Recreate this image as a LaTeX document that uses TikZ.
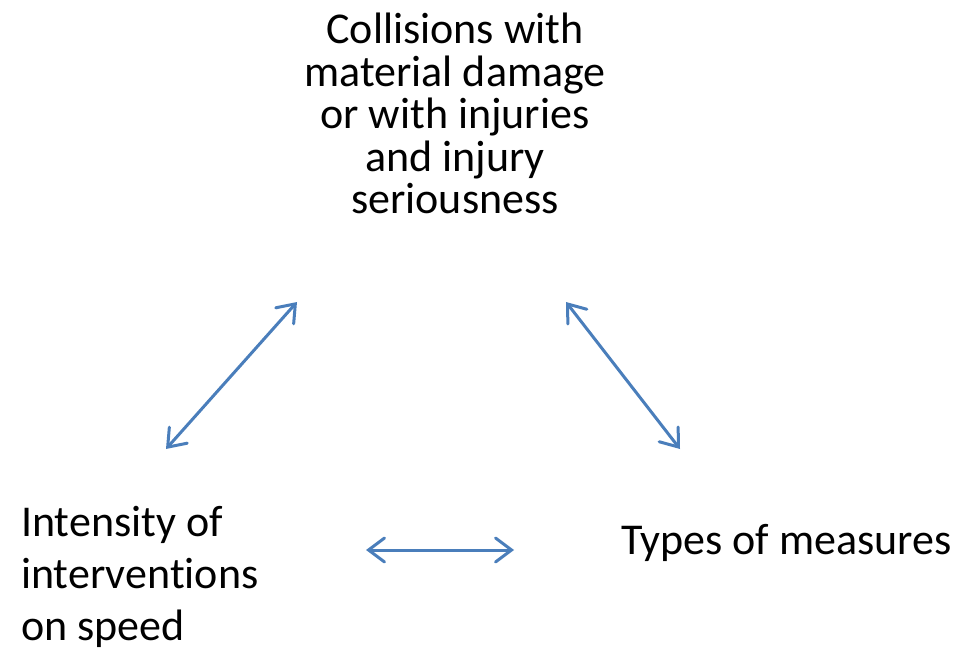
\documentclass[tikz,border=0pt]{standalone}
\usepackage{fontspec}
\setmainfont[Ligatures=NoCommon]{Carlito}
\usetikzlibrary{arrows.meta}
\definecolor{arrowblue}{HTML}{4A7EBB}
\tikzset{
  lbl/.style={inner sep=0pt, font=\fontsize{44}{42.5}\selectfont},
  barb/.tip={Straight Barb[length=16pt,width=24pt,line cap=round]},
  biarrow/.style={draw=arrowblue, line width=3pt, line cap=round, barb-barb}
}
\begin{document}
\begin{tikzpicture}[x=1pt,y=-1pt]
\useasboundingbox (0,0) rectangle (956,652);
\node[lbl, align=center, anchor=north] (top) at (455,13)
  {Collisions with\\material damage\\or with injuries\\and injury\\seriousness};
\node[lbl, align=left, anchor=north west, font=\fontsize{44}{52}\selectfont] (left) at (21,506)
  {Intensity of\\interventions\\on speed};
\node[lbl, anchor=west] (right) at (621,543) {Types of measures};
\coordinate (l1) at (166,449);
\coordinate (l2) at (297,302);
\coordinate (r1) at (566,302);
\coordinate (r2) at (680,449);
\coordinate (h1) at (366,550);
\coordinate (h2) at (514,550);
\draw[biarrow] (l1) -- (l2);
\draw[biarrow] (r1) -- (r2);
\draw[biarrow] (h1) -- (h2);
\end{tikzpicture}
\end{document}
